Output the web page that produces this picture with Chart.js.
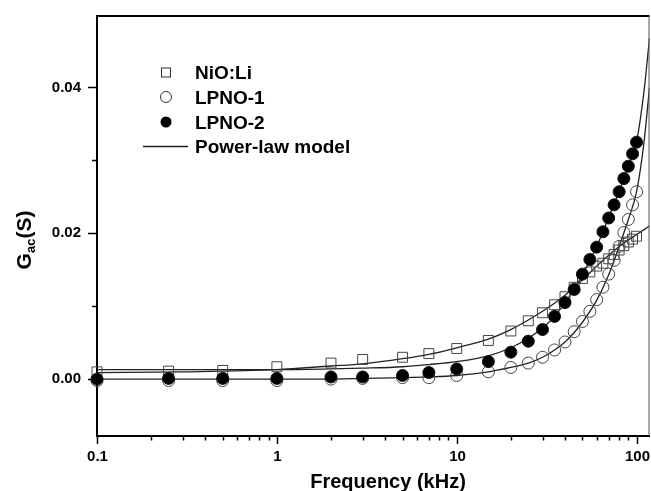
<!DOCTYPE html>
<html>
<head>
<meta charset="utf-8">
<script src="https://cdn.jsdelivr.net/npm/chart.js@4.4.0/dist/chart.umd.min.js"></script>
<style>
  html, body { margin: 0; padding: 0; background: #fff; }
  #wrap { width: 651px; height: 491px; }
</style>
</head>
<body>
<div id="wrap"><canvas id="gacChart" width="651" height="491"></canvas></div>
<script>
// Measured frequencies (kHz)
const freqs = [0.1, 0.25, 0.5, 1, 2, 3, 5, 7, 10, 15, 20, 25, 30, 35, 40, 45, 50, 55, 60, 65, 70, 75, 80, 85, 90, 95, 100];

// Gac (S)
const nioLi = [0.0010, 0.0011, 0.0012, 0.0017, 0.0022, 0.0027, 0.0030, 0.0035, 0.0042, 0.0053, 0.0066, 0.0080, 0.0091, 0.0102, 0.0113, 0.0126, 0.0138, 0.0147, 0.0155, 0.0159, 0.0165, 0.0171, 0.0177, 0.0183, 0.0188, 0.0192, 0.0196];
const lpno1 = [-0.0002, -0.0002, -0.0002, -0.0002, 0.0000, 0.0001, 0.0002, 0.0002, 0.0005, 0.0010, 0.0016, 0.0022, 0.0030, 0.0040, 0.0051, 0.0065, 0.0079, 0.0093, 0.0109, 0.0126, 0.0144, 0.0163, 0.0182, 0.0201, 0.0219, 0.0239, 0.0257];
const lpno2 = [0.0000, 0.0001, 0.0001, 0.0001, 0.0003, 0.0003, 0.0005, 0.0009, 0.0014, 0.0024, 0.0037, 0.0052, 0.0068, 0.0086, 0.0105, 0.0123, 0.0144, 0.0164, 0.0181, 0.0202, 0.0221, 0.0239, 0.0257, 0.0275, 0.0292, 0.0309, 0.0325];

// Power-law model curves
const fitFreqs = [0.1, 0.3, 1, 2, 3, 5, 7, 10, 15, 20, 25, 30, 35, 40, 45, 50, 60, 70, 80, 90, 100, 110, 118];
const fitNioLi = [0.0009, 0.0010, 0.0013, 0.0018, 0.0021, 0.0028, 0.0034, 0.0043, 0.0055, 0.0068, 0.0081, 0.0093, 0.0104, 0.0115, 0.0126, 0.0136, 0.0155, 0.0170, 0.0182, 0.0191, 0.0198, 0.0205, 0.0210];
const fitLpno1 = [0.0000, 0.0000, 0.0000, 0.0000, 0.0001, 0.0002, 0.0003, 0.0005, 0.0010, 0.0016, 0.0022, 0.0030, 0.0040, 0.0051, 0.0064, 0.0078, 0.0108, 0.0143, 0.0182, 0.0219, 0.0257, 0.0325, 0.0400];
const fitLpno2 = [0.0013, 0.0013, 0.0013, 0.0014, 0.0015, 0.0017, 0.0020, 0.0024, 0.0032, 0.0043, 0.0056, 0.0070, 0.0086, 0.0105, 0.0123, 0.0143, 0.0182, 0.0222, 0.0258, 0.0292, 0.0326, 0.0395, 0.0468];

// y axis ticks (labelled ones every 0.02)
const yTicks = [0, 0.01, 0.02, 0.03, 0.04];

const legendLabels = ['NiO:Li', 'LPNO-1', 'LPNO-2', 'Power-law model'];

const FONT = "'Liberation Sans', Arial, Helvetica, sans-serif";

function pairs(xs, ys) {
    return xs.map((x, i) => ({ x: x, y: ys[i] }));
}

function isDecade(v) {
    const l = Math.log10(v);
    return Math.abs(l - Math.round(l)) < 1e-9;
}

function isMajorY(v) {
    const r = v / 0.02;
    return Math.abs(r - Math.round(r)) < 1e-6;
}

// ticks, x labels, frame, axis titles and legend
const decorPlugin = {
    id: 'decor',
    afterDraw(chart) {
        const ctx = chart.ctx;
        const area = chart.chartArea;
        const xs = chart.scales.x;
        const ys = chart.scales.y;

        ctx.save();
        ctx.strokeStyle = '#000';
        ctx.fillStyle = '#000';

        // x tick marks and decade labels
        ctx.lineWidth = 1.5;
        ctx.font = 'bold 15px ' + FONT;
        ctx.textAlign = 'center';
        ctx.textBaseline = 'top';
        xs.ticks.forEach(t => {
            if (t.value > xs.max + 1e-9) return;
            const m = t.value / Math.pow(10, Math.floor(Math.log10(t.value) + 1e-9));
            if (Math.abs(m - Math.round(m)) > 1e-6) return;
            const px = Math.round(xs.getPixelForValue(t.value)) + 0.5;
            const major = isDecade(t.value);
            ctx.beginPath();
            ctx.moveTo(px, area.bottom);
            ctx.lineTo(px, area.bottom + (major ? 8 : 4.5));
            ctx.stroke();
            if (major) {
                ctx.fillText(String(t.value), px, area.bottom + 13);
            }
        });
        ys.ticks.forEach(t => {
            const py = Math.round(ys.getPixelForValue(t.value)) + 0.5;
            const len = isMajorY(t.value) ? 9 : 5;
            ctx.beginPath();
            ctx.moveTo(area.left, py);
            ctx.lineTo(area.left - len, py);
            ctx.stroke();
        });

        // top and right frame
        ctx.lineWidth = 2;
        ctx.beginPath();
        ctx.moveTo(area.left - 1, area.top);
        ctx.lineTo(area.right, area.top);
        ctx.stroke();
        ctx.lineWidth = 1;
        ctx.strokeStyle = '#555';
        ctx.beginPath();
        ctx.moveTo(area.right - 0.5, area.top);
        ctx.lineTo(area.right - 0.5, area.bottom);
        ctx.stroke();

        // x title
        ctx.font = 'bold 20px ' + FONT;
        ctx.textAlign = 'center';
        ctx.textBaseline = 'alphabetic';
        ctx.fillText('Frequency (kHz)', 388, 488);

        // y title with subscript
        ctx.save();
        ctx.translate(31, 240);
        ctx.rotate(-Math.PI / 2);
        ctx.textAlign = 'left';
        const mainFont = 'bold 21px ' + FONT;
        const subFont = 'bold 13px ' + FONT;
        ctx.font = mainFont;
        const wG = ctx.measureText('G').width;
        const wS = ctx.measureText('(S)').width;
        ctx.font = subFont;
        const wSub = ctx.measureText('ac').width;
        let tx = -(wG + wSub + wS) / 2;
        ctx.font = mainFont;
        ctx.fillText('G', tx, 0);
        tx += wG;
        ctx.font = subFont;
        ctx.fillText('ac', tx, 4);
        tx += wSub;
        ctx.font = mainFont;
        ctx.fillText('(S)', tx, 0);
        ctx.restore();

        // legend
        const rows = [72.5, 97, 122, 146.5];
        const mx = 166;
        ctx.lineWidth = 1;
        ctx.strokeStyle = '#333';
        ctx.strokeRect(mx - 4.5, rows[0] - 4.5, 9, 9);
        ctx.beginPath();
        ctx.arc(mx, rows[1], 5.5, 0, Math.PI * 2);
        ctx.stroke();
        ctx.beginPath();
        ctx.arc(mx, rows[2], 5.5, 0, Math.PI * 2);
        ctx.fill();
        ctx.strokeStyle = '#222';
        ctx.lineWidth = 1.3;
        ctx.beginPath();
        ctx.moveTo(143, rows[3]);
        ctx.lineTo(188, rows[3]);
        ctx.stroke();

        ctx.font = 'bold 19px ' + FONT;
        ctx.textAlign = 'left';
        legendLabels.forEach((label, i) => {
            ctx.fillText(label, 195, rows[i] + 0.358 * 19);
        });

        ctx.restore();
    }
};

const ctx = document.getElementById('gacChart').getContext('2d');
const gacChart = new Chart(ctx, {
    type: 'scatter',
    data: {
        datasets: [
            {
                label: 'LPNO-2',
                data: pairs(freqs, lpno2),
                pointStyle: 'circle',
                pointRadius: 6,
                pointBackgroundColor: '#000',
                pointBorderColor: '#111',
                pointBorderWidth: 1,
                showLine: false,
                clip: false
            },
            {
                label: 'LPNO-1',
                data: pairs(freqs, lpno1),
                pointStyle: 'circle',
                pointRadius: 6,
                pointBackgroundColor: 'rgba(0,0,0,0)',
                pointBorderColor: '#444',
                pointBorderWidth: 1,
                showLine: false,
                clip: false
            },
            {
                label: 'NiO:Li',
                data: pairs(freqs, nioLi),
                pointStyle: 'rect',
                pointRadius: 7,
                pointBackgroundColor: 'rgba(0,0,0,0)',
                pointBorderColor: '#444',
                pointBorderWidth: 1,
                showLine: false,
                clip: false
            },
            {
                label: 'fit NiO:Li',
                data: pairs(fitFreqs, fitNioLi),
                showLine: true,
                pointRadius: 0,
                borderColor: '#222',
                borderWidth: 1.3,
                cubicInterpolationMode: 'monotone'
            },
            {
                label: 'fit LPNO-1',
                data: pairs(fitFreqs, fitLpno1),
                showLine: true,
                pointRadius: 0,
                borderColor: '#222',
                borderWidth: 1.3,
                cubicInterpolationMode: 'monotone'
            },
            {
                label: 'fit LPNO-2',
                data: pairs(fitFreqs, fitLpno2),
                showLine: true,
                pointRadius: 0,
                borderColor: '#222',
                borderWidth: 1.3,
                cubicInterpolationMode: 'monotone'
            }
        ]
    },
    options: {
        responsive: false,
        animation: false,
        devicePixelRatio: 1,
        layout: {
            autoPadding: false,
            padding: { top: 13, right: 1.5, left: 0, bottom: 0 }
        },
        plugins: {
            legend: { display: false },
            tooltip: { enabled: false },
            title: { display: false }
        },
        scales: {
            x: {
                type: 'logarithmic',
                min: 0.1,
                max: 118,
                border: { display: true, color: '#000', width: 2 },
                grid: { display: false },
                ticks: { display: false },
                afterFit: function(scale) {
                    scale.height = 55;
                }
            },
            y: {
                type: 'linear',
                min: -0.0078,
                max: 0.0498,
                border: { display: true, color: '#000', width: 2 },
                grid: {
                    display: true,
                    drawOnChartArea: false,
                    drawTicks: true,
                    tickLength: 9,
                    color: 'rgba(0,0,0,0)'
                },
                ticks: {
                    padding: 7,
                    color: '#000',
                    font: { family: FONT, size: 15, weight: 'bold' },
                    callback: function(value) {
                        return isMajorY(value) ? value.toFixed(2) : '';
                    }
                },
                afterBuildTicks: function(scale) {
                    scale.ticks = yTicks.map(v => ({ value: v }));
                },
                afterFit: function(scale) {
                    scale.width = 97;
                }
            }
        }
    },
    plugins: [decorPlugin]
});
</script>
</body>
</html>
